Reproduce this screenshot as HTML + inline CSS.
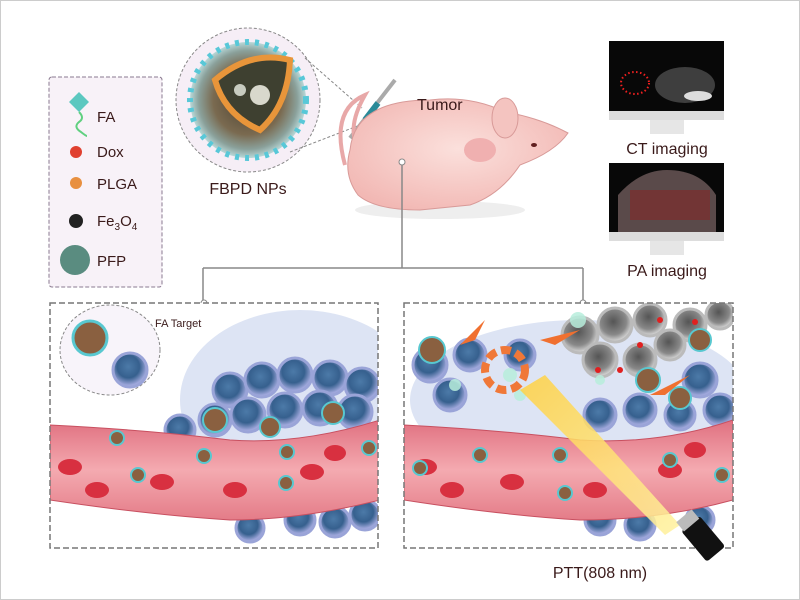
<!DOCTYPE html>
<html><head><meta charset="utf-8"><style>
body{margin:0;background:#fff}
svg{display:block}
text{font-family:"Liberation Sans",sans-serif;fill:#3a1a1a}
</style></head><body>
<svg width="800" height="600" viewBox="0 0 800 600" xmlns="http://www.w3.org/2000/svg">
<defs>
<radialGradient id="np" cx="50%" cy="50%" r="50%"><stop offset="0" stop-color="#4a4030"/><stop offset="0.6" stop-color="#7a6a50"/><stop offset="0.85" stop-color="#8aa09a"/><stop offset="1" stop-color="#b8d8d8"/></radialGradient>
<radialGradient id="cell" cx="45%" cy="40%" r="55%"><stop offset="0" stop-color="#4c7aa8"/><stop offset="0.6" stop-color="#36608e"/><stop offset="1" stop-color="#a0a8dc"/></radialGradient>
<radialGradient id="gcell" cx="45%" cy="40%" r="55%"><stop offset="0" stop-color="#555"/><stop offset="0.7" stop-color="#888"/><stop offset="1" stop-color="#ccc"/></radialGradient>
<linearGradient id="ves" x1="0" y1="0" x2="0" y2="1"><stop offset="0" stop-color="#e07080"/><stop offset="0.5" stop-color="#f4aab0"/><stop offset="1" stop-color="#e47c88"/></linearGradient>
<linearGradient id="beam" x1="0" y1="0" x2="1" y2="1"><stop offset="0" stop-color="#ffd040"/><stop offset="1" stop-color="#fff2a0"/></linearGradient>
<radialGradient id="mouse" cx="50%" cy="45%" r="60%"><stop offset="0" stop-color="#fbe0dc"/><stop offset="1" stop-color="#f2b8b4"/></radialGradient>
</defs>
<rect x="0.5" y="0.5" width="799" height="599" fill="#fff" stroke="#ccc"/>

<!-- legend -->
<rect x="49" y="77" width="113" height="210" rx="3" fill="#f8f2f8" stroke="#8a7a90" stroke-dasharray="4,2"/>
<polygon points="79,92 89,102 79,112 69,102" fill="#5cc8c0"/>
<path d="M79,112 q6,6 0,10 q-6,5 2,10 q5,4 6,4" stroke="#60d080" stroke-width="2" fill="none"/>
<text x="97" y="122" font-size="15">FA</text>
<circle cx="76" cy="152" r="6" fill="#e04030"/><text x="97" y="157" font-size="15">Dox</text>
<circle cx="76" cy="183" r="6" fill="#e89040"/><text x="97" y="189" font-size="15">PLGA</text>
<circle cx="76" cy="221" r="7" fill="#222"/><text x="97" y="226" font-size="15">Fe<tspan font-size="10" dy="4">3</tspan><tspan dy="-4">O</tspan><tspan font-size="10" dy="4">4</tspan></text>
<circle cx="75" cy="260" r="15" fill="#5a8c80"/><text x="97" y="266" font-size="15">PFP</text>

<!-- NP -->
<circle cx="248" cy="100" r="72" fill="#f6eef6" stroke="#888" stroke-dasharray="3,2"/>
<circle cx="248" cy="100" r="58" fill="url(#np)"/>
<circle cx="248" cy="100" r="58" fill="none" stroke="#58c8d8" stroke-width="6" stroke-dasharray="4,6"/>
<path d="M215,80 Q250,50 290,60 Q288,105 260,130 Q225,115 215,80Z" fill="#3e4030" stroke="#e8953a" stroke-width="6"/>
<circle cx="260" cy="95" r="10" fill="#d8d8cc"/><circle cx="240" cy="90" r="6" fill="#c8ccc0"/>
<line x1="305" y1="58" x2="362" y2="108" stroke="#888" stroke-dasharray="3,2"/>
<line x1="290" y1="152" x2="360" y2="125" stroke="#888" stroke-dasharray="3,2"/>
<text x="248" y="194" font-size="16" text-anchor="middle">FBPD NPs</text>

<!-- syringe -->
<line x1="395" y1="80" x2="350" y2="138" stroke="#aaa" stroke-width="4"/>
<line x1="378" y1="103" x2="365" y2="120" stroke="#2a8a98" stroke-width="6"/>

<!-- mouse -->
<path d="M345,165 Q330,110 365,95 Q345,130 360,150" stroke="#e8a8a8" stroke-width="4" fill="none"/>
<ellipse cx="440" cy="210" rx="85" ry="9" fill="#eee"/>
<path d="M350,150 Q355,100 430,100 Q470,95 505,112 Q540,118 568,133 Q555,152 520,165 Q500,195 470,205 L420,210 Q375,210 358,195 Q343,175 350,150Z" fill="url(#mouse)" stroke="#d89a98" stroke-width="1"/>
<ellipse cx="505" cy="118" rx="13" ry="20" fill="#f4c4c0" stroke="#d89a98"/>
<ellipse cx="480" cy="150" rx="16" ry="12" fill="#f0b0b0"/>
<ellipse cx="534" cy="145" rx="3" ry="2" fill="#602020"/>
<text x="417" y="110" font-size="16">Tumor</text>

<!-- monitors -->
<rect x="609" y="41" width="115" height="70" fill="#080808"/>
<ellipse cx="635" cy="83" rx="14" ry="11" fill="none" stroke="#f02020" stroke-width="2" stroke-dasharray="1.5,2.5"/>
<ellipse cx="685" cy="85" rx="30" ry="18" fill="#555" opacity=".7"/>
<ellipse cx="698" cy="96" rx="14" ry="5" fill="#ddd"/>
<rect x="609" y="111" width="115" height="9" fill="#ddd"/>
<rect x="650" y="120" width="34" height="14" fill="#e6e6e6"/>
<text x="667" y="154" font-size="16" text-anchor="middle">CT imaging</text>
<rect x="609" y="163" width="115" height="69" fill="#080808"/>
<path d="M618,232 L618,195 Q640,170 667,170 Q700,170 716,195 L716,232Z" fill="#5a4a4a"/>
<rect x="630" y="190" width="80" height="30" fill="#8a2020" opacity=".5"/>
<rect x="609" y="232" width="115" height="9" fill="#ddd"/>
<rect x="650" y="241" width="34" height="14" fill="#e6e6e6"/>
<text x="667" y="276" font-size="16" text-anchor="middle">PA imaging</text>

<!-- connectors -->
<path d="M402,163 V268 M203,268 H583 M203,268 V302 M583,268 V302" stroke="#888" stroke-width="1.5" fill="none"/>
<circle cx="402" cy="162" r="3" fill="#fff" stroke="#888"/>
<circle cx="204" cy="303" r="3" fill="#fff" stroke="#888"/>
<circle cx="583" cy="303" r="3" fill="#fff" stroke="#888"/>

<!-- left panel -->
<clipPath id="cl"><rect x="50" y="303" width="328" height="245"/></clipPath>
<g clip-path="url(#cl)">
<rect x="50" y="303" width="328" height="245" fill="#fff"/>
<ellipse cx="300" cy="400" rx="120" ry="90" fill="#dde4f4"/>
<g fill="url(#cell)" stroke="#9aa4d8" stroke-width="3">
<circle cx="230" cy="390" r="17"/><circle cx="262" cy="380" r="17"/><circle cx="295" cy="375" r="17"/><circle cx="330" cy="378" r="17"/><circle cx="362" cy="385" r="17"/>
<circle cx="215" cy="420" r="16"/><circle cx="248" cy="415" r="17"/><circle cx="285" cy="410" r="17"/><circle cx="320" cy="408" r="17"/><circle cx="355" cy="412" r="17"/>
<circle cx="180" cy="430" r="15"/><circle cx="300" cy="520" r="15"/><circle cx="335" cy="522" r="15"/><circle cx="365" cy="515" r="15"/><circle cx="250" cy="528" r="14"/>
</g>
<path d="M50,425 Q150,430 230,440 Q300,445 380,420 L380,500 Q300,520 230,520 Q150,515 50,500Z" fill="url(#ves)" stroke="#c85060"/>
<g fill="#d83040"><ellipse cx="70" cy="467" rx="12" ry="8"/><ellipse cx="97" cy="490" rx="12" ry="8"/><ellipse cx="162" cy="482" rx="12" ry="8"/><ellipse cx="235" cy="490" rx="12" ry="8"/><ellipse cx="312" cy="472" rx="12" ry="8"/><ellipse cx="335" cy="453" rx="11" ry="8"/></g>
<g fill="#8a6040" stroke="#58c8d0" stroke-width="2"><circle cx="117" cy="438" r="7"/><circle cx="138" cy="475" r="7"/><circle cx="204" cy="456" r="7"/><circle cx="287" cy="452" r="7"/><circle cx="286" cy="483" r="7"/><circle cx="369" cy="448" r="7"/><circle cx="215" cy="420" r="12"/><circle cx="270" cy="427" r="10"/><circle cx="333" cy="413" r="11"/></g>
<ellipse cx="110" cy="350" rx="50" ry="45" fill="#f8f4fa" stroke="#888" stroke-dasharray="3,2"/>
<circle cx="90" cy="338" r="17" fill="#8a6040" stroke="#58c8d0" stroke-width="3"/>
<circle cx="130" cy="370" r="17" fill="url(#cell)" stroke="#9aa4d8" stroke-width="3"/>
<text x="155" y="327" font-size="11">FA Target</text>
</g>
<rect x="50" y="303" width="328" height="245" fill="none" stroke="#777" stroke-width="1.5" stroke-dasharray="6,3"/>

<!-- right panel -->
<clipPath id="cr"><rect x="404" y="303" width="329" height="245"/></clipPath>
<g clip-path="url(#cr)">
<rect x="404" y="303" width="329" height="245" fill="#fff"/>
<ellipse cx="580" cy="400" rx="170" ry="80" fill="#dde4f4"/>
<g fill="url(#cell)" stroke="#9aa4d8" stroke-width="3">
<circle cx="430" cy="365" r="17"/><circle cx="450" cy="395" r="16"/><circle cx="470" cy="355" r="16"/><circle cx="520" cy="355" r="15"/>
<circle cx="600" cy="415" r="16"/><circle cx="640" cy="410" r="16"/><circle cx="700" cy="380" r="17"/><circle cx="720" cy="410" r="16"/><circle cx="680" cy="415" r="15"/>
<circle cx="600" cy="520" r="15"/><circle cx="640" cy="525" r="15"/><circle cx="700" cy="520" r="14"/>
</g>
<g fill="url(#gcell)" stroke="#bbb" stroke-width="3">
<circle cx="580" cy="335" r="18"/><circle cx="615" cy="325" r="17"/><circle cx="650" cy="320" r="16"/><circle cx="600" cy="360" r="17"/><circle cx="640" cy="360" r="16"/><circle cx="690" cy="325" r="16"/><circle cx="720" cy="315" r="14"/><circle cx="670" cy="345" r="15"/>
</g>
<g fill="#e02020"><circle cx="598" cy="370" r="3"/><circle cx="640" cy="345" r="3"/><circle cx="660" cy="320" r="3"/><circle cx="695" cy="322" r="3"/><circle cx="620" cy="370" r="3"/></g>
<path d="M404,425 Q500,430 580,440 Q660,445 733,420 L733,500 Q660,520 580,520 Q500,515 404,500Z" fill="url(#ves)" stroke="#c85060"/>
<g fill="#d83040"><ellipse cx="425" cy="467" rx="12" ry="8"/><ellipse cx="452" cy="490" rx="12" ry="8"/><ellipse cx="512" cy="482" rx="12" ry="8"/><ellipse cx="595" cy="490" rx="12" ry="8"/><ellipse cx="670" cy="470" rx="12" ry="8"/><ellipse cx="695" cy="450" rx="11" ry="8"/></g>
<g fill="#8a6040" stroke="#58c8d0" stroke-width="2"><circle cx="420" cy="468" r="7"/><circle cx="480" cy="455" r="7"/><circle cx="560" cy="455" r="7"/><circle cx="565" cy="493" r="7"/><circle cx="670" cy="460" r="7"/><circle cx="722" cy="475" r="7"/><circle cx="432" cy="350" r="13"/><circle cx="648" cy="380" r="12"/><circle cx="680" cy="398" r="11"/><circle cx="700" cy="340" r="11"/></g>
<g fill="#b8eedc" opacity=".85"><circle cx="578" cy="320" r="8"/><circle cx="510" cy="375" r="7"/><circle cx="520" cy="395" r="6"/><circle cx="455" cy="385" r="6"/><circle cx="600" cy="380" r="5"/></g>
<polygon points="520,390 545,375 680,525 665,535" fill="url(#beam)" opacity=".85"/>
<circle cx="505" cy="370" r="20" fill="none" stroke="#f07838" stroke-width="8" stroke-dasharray="10,5"/>
<path d="M460,345 L485,320 L475,340Z" fill="#f07030"/><path d="M540,340 L580,330 L555,345Z" fill="#f07030"/><path d="M650,395 L690,375 L665,395Z" fill="#f07030"/>
</g>
<rect x="404" y="303" width="329" height="245" fill="none" stroke="#777" stroke-width="1.5" stroke-dasharray="6,3"/>
<g transform="rotate(-40 700 535)"><rect x="688" y="520" width="24" height="40" rx="3" fill="#111"/><rect x="690" y="510" width="20" height="12" fill="#bbb"/></g>
<text x="600" y="578" font-size="16" text-anchor="middle">PTT(808 nm)</text>
</svg>
</body></html>
